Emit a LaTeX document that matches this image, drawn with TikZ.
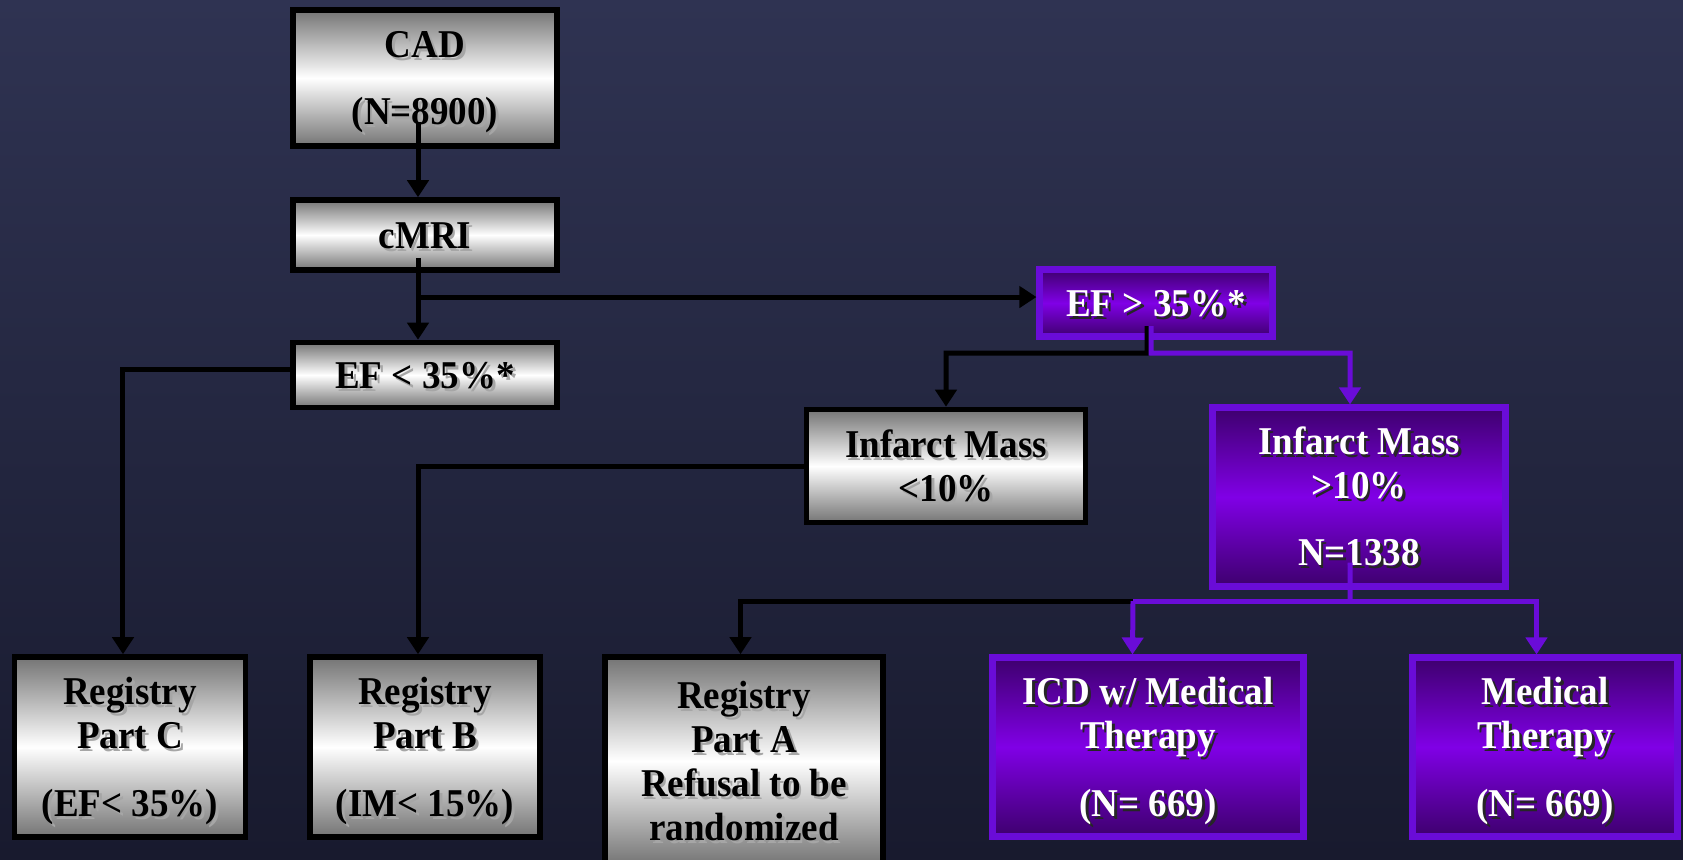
\documentclass[tikz,border=0pt]{standalone}
\usepackage{fontspec}
\setmainfont{Liberation Serif}[FakeStretch=0.94]
\usetikzlibrary{arrows.meta}
\definecolor{bgtop}{HTML}{2F3352}
\definecolor{bgbot}{HTML}{181A2E}
\definecolor{boxgrey}{HTML}{747474}
\definecolor{violetedge}{HTML}{6A0CD8}
\definecolor{violetdark}{HTML}{3E006E}
\definecolor{violetlight}{HTML}{8000E6}
% text with a soft drop shadow
\newcommand{\castshadow}[1]{\raisebox{-0.06cm}[\height][\depth]{\rlap{\kern0.8pt\raisebox{-0.8pt}{\color{\shcol}\begin{tabular}{@{}c@{}}#1\end{tabular}}}\begin{tabular}{@{}c@{}}#1\end{tabular}}}

\begin{document}
\begin{tikzpicture}[x=0.01cm, y=-0.01cm,
	greybox/.style={draw=black, line width=0.055cm, top color=boxgrey, bottom color=boxgrey, middle color=white,
		text=black, inner sep=0pt, font=\fontsize{11.2pt}{12.5pt}\selectfont\bfseries,
		execute at begin node={\def\shcol{black!35}}},
	violetbox/.style={greybox, draw=violetedge, line width=0.07cm, top color=violetdark, bottom color=violetdark,
		middle color=violetlight, text=white, execute at begin node={\def\shcol{black!85}}},
	link/.style={line width=0.05cm, -{Triangle[width=0.21cm,length=0.17cm]}},
	vlink/.style={link, color=violetedge}]
	\clip (0,0) rectangle (1683,859);
	\shade[top color=bgtop, bottom color=bgbot] (0,0) rectangle (1683,859);

	\node[greybox, minimum width=2.64cm, minimum height=1.36cm] (CAD) at (425,78) {\castshadow{CAD\\[0.23cm](N=8900)}};
	\node[greybox, minimum width=2.64cm, minimum height=0.70cm] (cMRI) at (425,235) {\castshadow{cMRI}};
	\node[greybox, minimum width=2.64cm, minimum height=0.65cm] (EFlow) at (425,375) {\castshadow{EF < 35\%*}};
	\node[violetbox, minimum width=2.32cm, minimum height=0.67cm] (EFhigh) at (1156,303) {\castshadow{EF > 35\%*}};
	\node[greybox, minimum width=2.79cm, minimum height=1.13cm] (IMlow) at (946,466) {\castshadow{Infarct Mass\\<10\%}};
	\node[violetbox, minimum width=2.93cm, minimum height=1.78cm] (IMhigh) at (1359,497) {\castshadow{Infarct Mass\\>10\%\\[0.23cm]N=1338}};

	\node[greybox, minimum width=2.31cm, minimum height=1.80cm] (partC) at (130,747) {\castshadow{Registry\\Part C\\[0.24cm](EF< 35\%)}};
	\node[greybox, minimum width=2.30cm, minimum height=1.80cm] (partB) at (425,747) {\castshadow{Registry\\Part B\\[0.24cm](IM< 15\%)}};
	\node[greybox, minimum width=2.78cm, minimum height=2.08cm] (partA) at (744,761) {\castshadow{Registry\\Part A\\Refusal to be\\randomized}};
	\node[violetbox, minimum width=3.10cm, minimum height=1.78cm] (ICD) at (1148,747) {\castshadow{ICD w/ Medical\\Therapy\\[0.24cm](N= 669)}};
	\node[violetbox, minimum width=2.64cm, minimum height=1.78cm] (medical) at (1545,747) {\castshadow{Medical\\Therapy\\[0.24cm](N= 669)}};

	% left column
	\coordinate (fork) at (418,297);
	\draw[link] ([xshift=-0.07cm,yshift=0.27cm]CAD.south) -- ([xshift=-0.07cm]cMRI.north);
	\draw[link] ([xshift=-0.07cm,yshift=0.15cm]cMRI.south) -- ([xshift=-0.07cm]EFlow.north);
	\draw[link] (fork) -- (fork -| EFhigh.west);
	\draw[link] ([yshift=0.06cm]EFlow.west) -| ([xshift=-0.07cm]partC.north);

	% EF > 35%
	\coordinate (split) at (1147,353);
	\coordinate (splitR) at (1151,353);
	\draw[link] ([xshift=-0.09cm,yshift=0.14cm]EFhigh.south) -- (split) -| (IMlow.north);
	\draw[vlink] ([xshift=-0.05cm,yshift=0.14cm]EFhigh.south) -- (splitR) -| ([xshift=-0.09cm]IMhigh.north);
	\draw[link] (IMlow.west) -| ([xshift=-0.07cm]partB.north);

	% infarct mass > 10%
	\coordinate (drop) at (1350,601);
	\coordinate (branch) at (1133,601);
	\draw[vlink, -] ([xshift=-0.09cm,yshift=0.27cm]IMhigh.south) -- (drop);
	\draw[link] (branch) -| ([xshift=-0.035cm]partA.north);
	\draw[vlink] (branch) -- ([xshift=-0.155cm]ICD.north);
	\draw[vlink] (branch) -| ([xshift=-0.085cm]medical.north);
\end{tikzpicture}
\end{document}
